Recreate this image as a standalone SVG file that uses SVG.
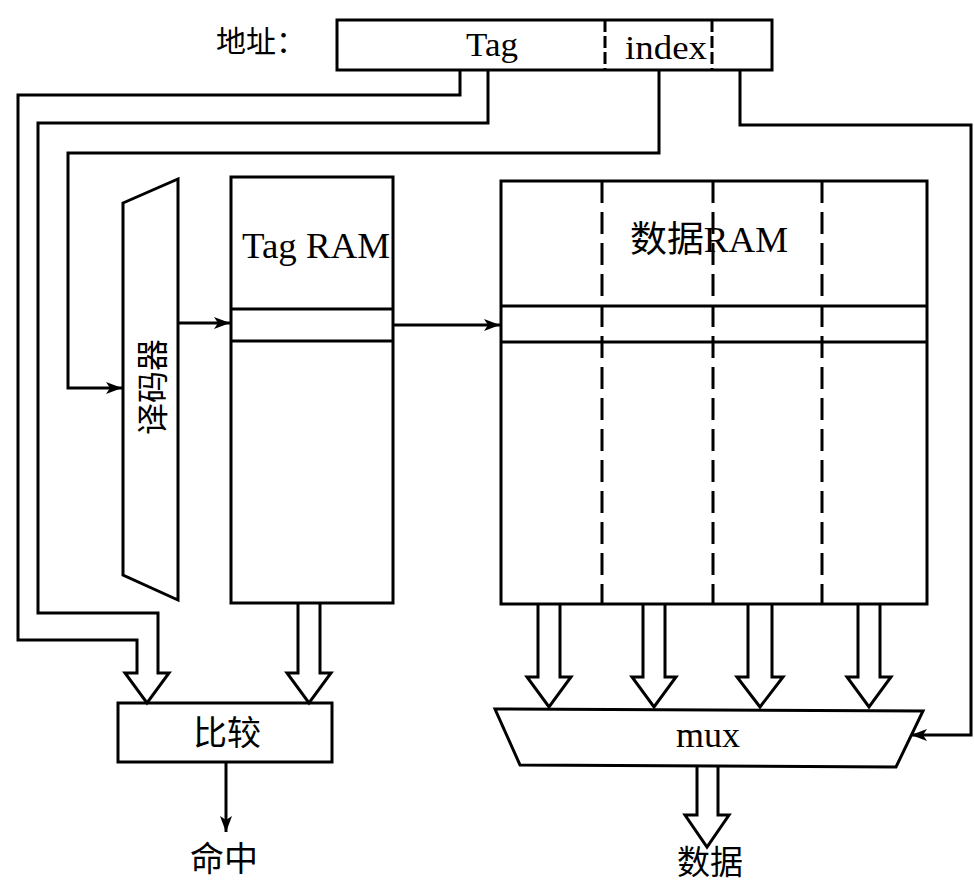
<svg xmlns="http://www.w3.org/2000/svg" width="974" height="883" viewBox="0 0 974 883">
<style>
.ln{fill:none;stroke:#000;stroke-width:3;stroke-linejoin:miter}
.bx{fill:#fff;stroke:#000;stroke-width:3}
.dv{fill:none;stroke:#000;stroke-width:3;stroke-dasharray:22,9}
.ser{font-family:"Liberation Serif","Times New Roman",serif;fill:#000}
.cjk{font-family:"Noto Sans CJK SC","Noto Sans CJK JP",sans-serif;fill:#000}
</style>
<defs>
<marker id="ah" markerUnits="userSpaceOnUse" markerWidth="18" markerHeight="12" refX="16" refY="6" orient="auto">
<path d="M0,0 L16,6 L0,12 L4,6 Z" fill="#000"/>
</marker>
</defs>
<rect width="974" height="883" fill="#fff"/>

<g id="address">
<text class="cjk" x="216" y="52" font-size="30">地址：</text>
<rect class="bx" x="337" y="20" width="435" height="50"/>
<line x1="605" y1="20" x2="605" y2="70" stroke="#000" stroke-width="3" stroke-dasharray="12,4"/>
<line x1="712" y1="20" x2="712" y2="70" stroke="#000" stroke-width="3" stroke-dasharray="12,4"/>
<text class="ser" x="492" y="56" font-size="34" text-anchor="middle" textLength="52" lengthAdjust="spacingAndGlyphs">Tag</text>
<text class="ser" x="666" y="59" font-size="34" text-anchor="middle" textLength="82" lengthAdjust="spacingAndGlyphs">index</text>
</g>

<g id="decoder">
<polygon class="bx" points="123,203 178,179 178,600 123,575"/>
<text class="cjk" font-size="32" text-anchor="middle" transform="translate(164,387) rotate(-90)">译码器</text>
</g>

<g id="tagram">
<rect class="bx" x="231" y="177" width="162" height="426"/>
<line class="ln" x1="231" y1="309" x2="393" y2="309"/>
<line class="ln" x1="231" y1="341" x2="393" y2="341"/>
<text class="ser" x="242" y="258" font-size="36" textLength="148" lengthAdjust="spacingAndGlyphs">Tag RAM</text>
</g>

<g id="dataram">
<rect class="bx" x="501" y="181" width="426" height="423"/>
<line class="ln" x1="501" y1="306" x2="927" y2="306"/>
<line class="ln" x1="501" y1="342" x2="927" y2="342"/>
<line class="dv" x1="602" y1="181" x2="602" y2="604"/>
<line class="dv" x1="713" y1="181" x2="713" y2="604"/>
<line class="dv" x1="822" y1="181" x2="822" y2="604"/>
<text x="630" y="252" font-size="36" textLength="158" lengthAdjust="spacingAndGlyphs"><tspan class="cjk">数据</tspan><tspan class="ser">RAM</tspan></text>
</g>

<g id="compare">
<rect class="bx" x="118" y="703" width="214" height="59"/>
<text class="cjk" x="227" y="745" font-size="34" text-anchor="middle">比较</text>
</g>

<g id="hit">
<text class="cjk" x="224" y="871" font-size="34" text-anchor="middle">命中</text>
</g>

<g id="mux">
<polygon class="bx" points="495,709 923,711 896,767 520,765"/>
<text class="ser" x="708" y="747" font-size="36" text-anchor="middle">mux</text>
</g>

<g id="data">
<text class="cjk" x="710" y="874" font-size="33" text-anchor="middle">数据</text>
</g>

<g id="connectors">
<path class="ln" d="M460,70 V95 H18 V640 H137 V673 H125 L147,703 L169,673 H158 V613 H38 V123 H488 V70"/>
<path class="ln" d="M298,604 V673 H287 L309,703 L331,673 H320 V604"/>
<path class="ln" d="M538,604 V677 H527 L549,707 L571,677 H560 V604"/>
<path class="ln" d="M643,604 V677 H632 L654,707 L676,677 H665 V604"/>
<path class="ln" d="M748,604 V677 H737 L760,707 L783,677 H772 V604"/>
<path class="ln" d="M858,604 V677 H847 L869,707 L891,677 H880 V604"/>
<path class="ln" d="M697,766 V815 H685 L707,847 L729,815 H718 V766"/>
<path class="ln" d="M659,70 V153 H68 V388 H122" marker-end="url(#ah)"/>
<path class="ln" d="M178,323 H230" marker-end="url(#ah)"/>
<path class="ln" d="M393,325 H500" marker-end="url(#ah)"/>
<path class="ln" d="M740,70 V125 H971 V735 H911" marker-end="url(#ah)"/>
<path class="ln" d="M226,762 V832" marker-end="url(#ah)"/>
</g>
</svg>
